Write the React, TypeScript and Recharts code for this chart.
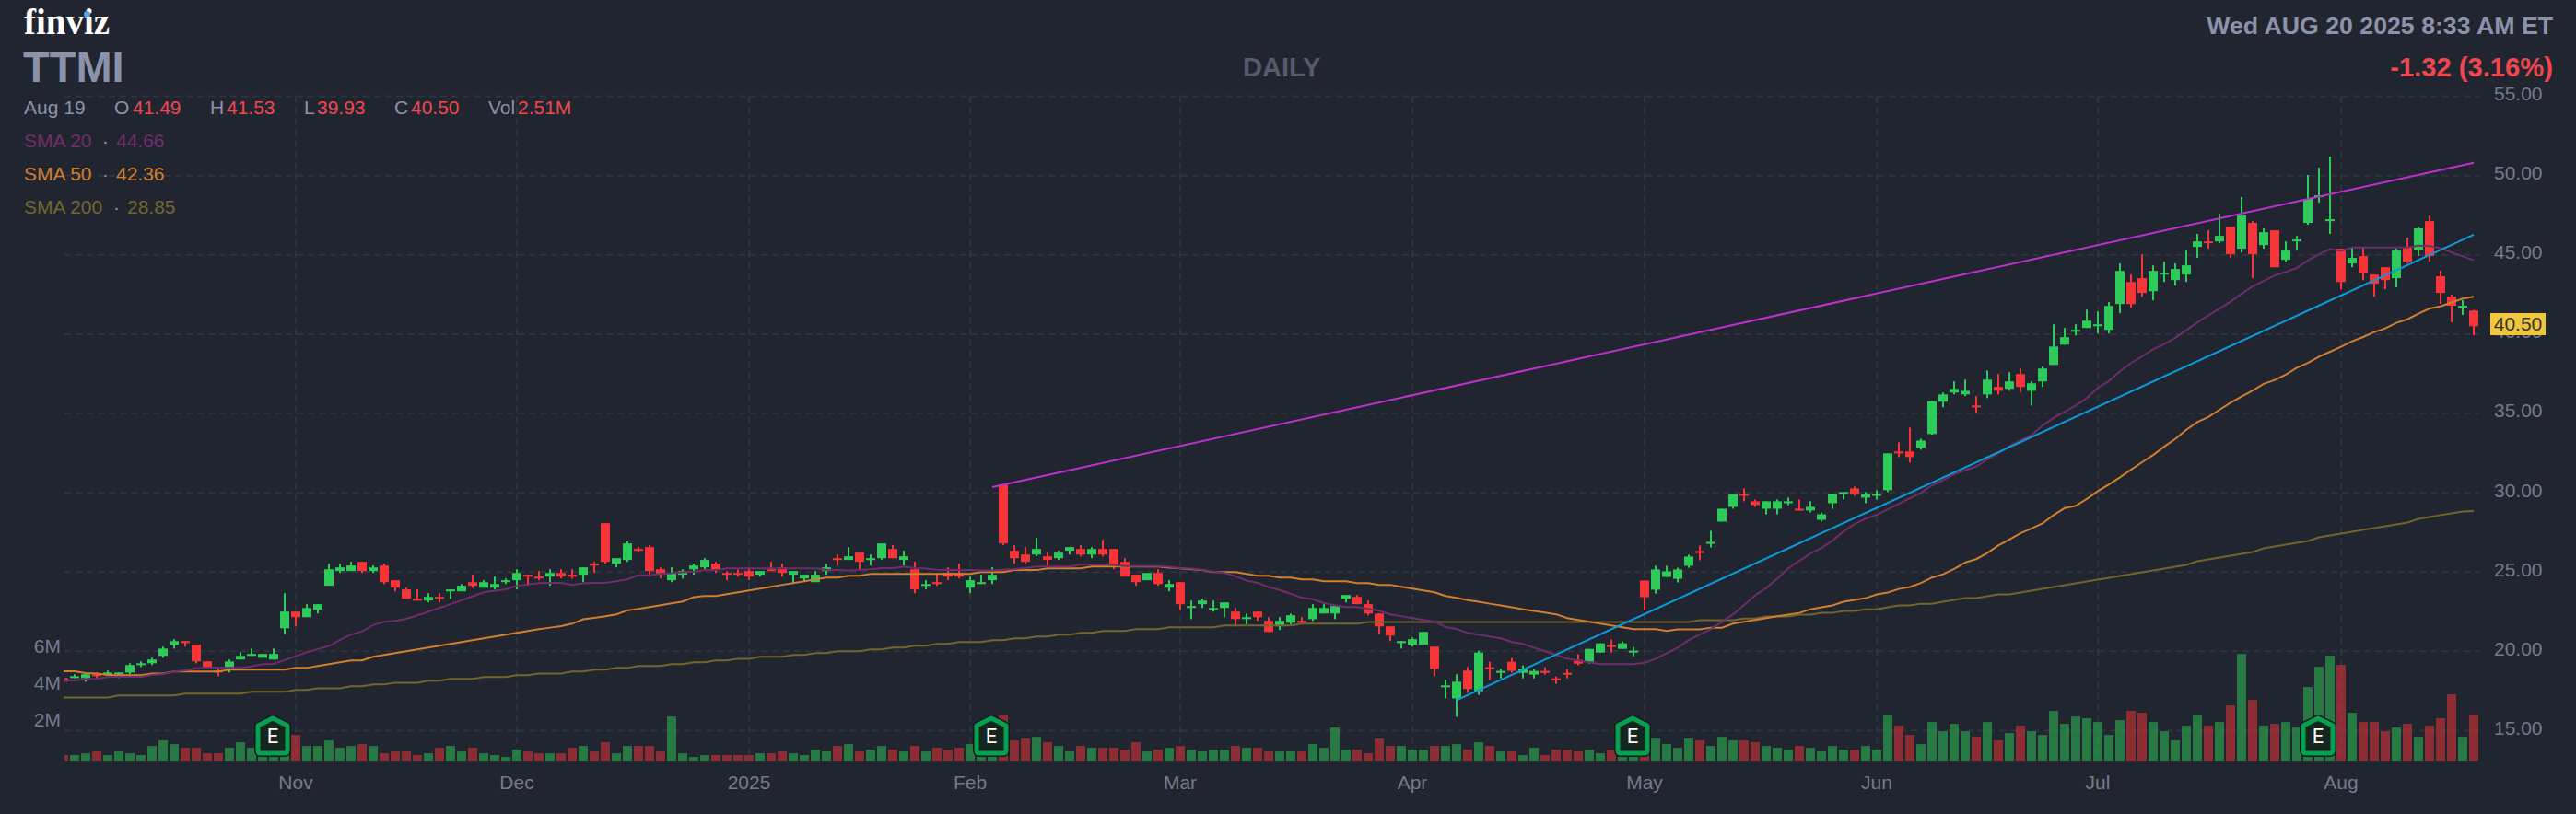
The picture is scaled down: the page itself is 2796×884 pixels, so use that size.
// App.tsx - TTMI daily candlesticks, finviz dark style
import { ComposedChart, Bar, Line, XAxis, YAxis, CartesianGrid, ReferenceDot } from "recharts";

const opens = [
  18.31,18.31,18.31,18.55,18.52,18.55,18.66,19.13,19.24,19.71,
  20.41,20.64,20.41,19.36,18.78,18.90,19.48,19.71,19.59,19.48,
  21.45,22.50,22.15,22.62,24.13,25.06,25.06,25.64,25.06,25.41,
  24.48,23.90,23.31,23.20,23.43,23.78,23.78,24.36,24.01,24.01,
  24.36,24.48,24.83,24.71,24.71,24.94,24.83,24.83,25.52,28.08,
  25.52,25.76,26.45,26.57,25.17,24.48,24.83,25.17,25.29,25.52,
  24.94,24.94,25.06,24.83,25.17,25.29,24.83,24.59,24.36,25.06,
  25.87,25.76,26.22,25.76,25.87,26.45,25.76,25.17,24.13,24.36,
  24.94,24.94,24.01,24.24,24.48,30.52,26.34,26.10,26.10,25.99,
  25.87,26.34,26.45,26.10,26.45,26.45,25.64,24.83,24.48,24.94,
  24.01,24.36,22.73,22.97,22.62,22.73,22.50,22.03,22.50,21.92,
  21.57,21.80,21.92,22.03,22.38,22.38,23.31,23.43,22.97,22.38,
  21.57,20.52,20.41,20.41,20.29,17.73,17.03,18.78,17.48,18.99,
  18.64,19.34,18.64,18.53,18.76,18.29,18.64,19.46,19.34,19.92,
  20.39,20.15,19.92,24.46,23.88,24.69,24.57,25.39,26.32,26.78,
  28.18,29.11,29.92,29.46,28.99,28.99,29.34,28.99,28.88,28.29,
  29.34,29.92,30.27,29.69,29.81,30.16,32.60,32.60,32.83,33.70,
  35.74,36.32,36.20,35.50,36.20,36.67,36.55,37.48,36.43,37.02,
  38.06,39.34,40.15,40.39,40.50,40.27,41.90,43.29,43.53,42.71,
  43.76,43.41,43.76,45.50,45.85,45.85,46.78,45.39,47.02,45.62,
  46.55,44.69,45.85,47.02,48.64,47.13,45.39,44.46,44.92,43.76,
  44.22,43.53,45.50,45.28,47.13,43.65,42.37,41.68,41.49,
];
const highs = [
  18.31,18.55,18.55,18.66,18.78,18.66,19.24,19.36,19.59,20.29,
  20.76,20.64,20.41,19.36,18.90,19.48,19.94,20.17,19.83,20.17,
  23.66,22.50,22.97,22.97,25.52,25.52,25.64,25.64,25.41,25.52,
  24.48,24.01,23.90,23.66,23.66,23.90,24.24,24.83,24.48,24.71,
  24.59,25.17,24.83,25.06,25.17,25.17,25.17,25.29,25.64,28.08,
  25.87,26.92,26.57,26.69,25.29,25.29,25.17,25.52,25.87,25.64,
  25.06,25.17,25.29,25.06,25.64,25.52,25.06,24.83,25.06,25.52,
  26.10,26.57,26.22,26.10,26.80,26.69,26.34,25.64,24.48,24.94,
  25.29,25.52,24.71,24.83,25.29,30.52,26.69,26.57,27.15,26.22,
  26.34,26.57,26.69,26.57,27.03,26.45,25.87,24.83,24.94,25.17,
  24.48,24.36,23.20,23.31,23.20,23.08,22.73,22.38,22.50,22.15,
  22.15,22.38,22.15,22.97,22.97,22.85,23.55,23.55,23.20,22.38,
  21.57,20.64,20.87,21.22,20.29,18.20,18.55,19.01,20.04,19.34,
  18.88,19.57,19.11,18.88,18.99,18.41,18.88,19.81,20.15,20.50,
  20.74,20.62,20.27,24.46,25.39,25.39,25.27,26.09,26.67,27.60,
  28.99,29.92,30.27,29.57,29.46,29.57,29.69,29.57,29.46,28.76,
  29.92,30.04,30.39,30.04,30.16,32.48,33.18,34.11,33.41,35.78,
  36.32,37.02,37.13,36.09,37.71,37.48,37.60,37.83,37.02,37.95,
  40.62,40.39,40.62,41.55,41.43,42.02,44.46,43.76,45.04,44.34,
  44.57,44.46,45.27,46.32,46.55,47.60,46.78,48.64,47.13,46.67,
  46.55,45.85,46.20,50.04,50.50,51.20,45.39,45.50,45.50,43.76,
  44.22,45.39,46.09,46.79,47.48,44.00,42.49,42.14,41.53,
];
const lows = [
  18.08,18.31,18.08,18.31,18.43,18.31,18.55,19.01,19.13,19.59,
  20.17,20.29,19.24,18.90,18.43,18.66,19.48,19.71,19.59,19.48,
  21.10,21.57,22.15,22.38,24.13,24.94,25.06,24.94,24.94,24.24,
  23.78,23.31,23.20,23.08,23.08,23.31,23.78,24.01,24.01,23.90,
  24.24,23.90,24.13,24.48,24.13,24.59,24.59,24.36,24.94,25.52,
  25.29,25.64,26.22,24.71,24.59,24.36,24.59,24.83,25.17,24.94,
  24.48,24.71,24.48,24.71,25.06,24.71,24.24,24.36,24.36,24.83,
  25.41,25.76,25.17,25.41,25.76,25.87,25.41,23.66,23.90,24.13,
  24.48,24.59,23.66,24.24,24.24,26.69,25.52,25.52,25.99,25.17,
  25.76,26.10,25.99,25.87,25.99,25.17,24.71,24.13,24.48,24.13,
  23.78,22.62,22.03,22.73,22.50,22.15,21.57,21.69,21.92,21.22,
  21.34,21.69,21.80,21.92,22.38,22.03,23.08,22.97,22.27,21.10,
  20.64,20.17,20.29,20.41,18.43,17.03,15.87,17.38,17.25,18.18,
  18.29,18.64,18.29,18.29,18.53,17.95,18.29,19.11,19.22,19.92,
  19.92,20.15,19.69,22.60,23.64,24.69,24.34,25.27,25.74,26.55,
  28.18,28.99,29.46,29.11,28.64,28.64,29.22,28.88,28.76,28.18,
  28.99,29.57,29.81,29.34,29.57,30.04,32.25,31.90,32.71,33.66,
  35.39,36.20,36.09,35.04,35.97,36.20,36.43,36.32,35.50,36.67,
  38.06,39.34,39.92,40.39,40.04,40.04,41.32,41.67,42.36,42.13,
  43.29,43.06,43.29,44.81,45.39,45.74,44.81,45.15,43.53,45.39,
  44.22,44.57,45.27,46.90,48.29,46.32,42.83,44.22,43.41,42.36,
  42.83,42.95,44.46,44.93,44.58,41.91,40.75,41.21,39.93,
];
const closes = [
  18.08,18.43,18.55,18.43,18.66,18.66,19.13,19.24,19.48,20.17,
  20.64,20.52,19.36,19.01,18.66,19.36,19.71,19.83,19.83,19.83,
  22.50,22.15,22.73,22.97,25.17,25.29,25.41,25.06,25.29,24.36,
  24.01,23.31,23.20,23.43,23.31,23.90,24.13,24.13,24.36,24.24,
  24.48,24.94,24.71,24.59,24.94,24.71,24.71,25.29,25.41,25.64,
  25.87,26.80,26.34,25.06,24.83,24.94,25.06,25.41,25.76,25.17,
  24.83,24.83,24.71,25.06,25.06,24.94,25.06,24.83,24.83,25.29,
  25.76,25.99,25.64,25.87,26.80,25.87,25.99,23.90,24.24,24.24,
  24.71,24.71,24.48,24.36,24.83,26.80,25.87,25.64,26.45,25.76,
  26.22,26.57,26.10,26.45,26.10,25.41,24.71,24.36,24.94,24.24,
  24.24,22.97,22.85,23.20,22.73,23.08,22.03,22.15,22.15,21.22,
  21.92,22.27,21.80,22.73,22.73,22.85,23.55,22.97,22.38,21.57,
  20.99,20.64,20.76,21.22,18.90,17.85,18.08,17.62,19.92,18.88,
  18.76,18.76,18.88,18.76,18.64,18.18,18.53,19.22,20.15,20.50,
  20.27,20.50,20.04,23.41,25.16,25.04,25.16,25.97,26.20,26.90,
  28.99,29.92,29.81,29.22,29.46,29.46,29.46,28.88,29.11,28.64,
  29.92,30.04,29.92,29.92,29.92,32.48,32.48,32.25,33.29,35.78,
  36.20,36.55,36.43,35.39,37.13,36.43,37.02,36.67,36.90,37.83,
  39.22,39.81,40.27,40.85,40.62,41.78,43.99,41.90,42.60,43.99,
  43.88,44.11,44.34,45.85,45.74,46.20,45.04,47.48,45.04,46.43,
  44.22,45.27,45.97,48.53,48.76,47.25,43.29,44.81,43.88,43.18,
  43.41,45.27,44.57,46.67,44.93,42.60,41.79,41.79,40.50,
];
// volume in millions
const volumes = [
  0.3,0.3,0.4,0.5,0.3,0.5,0.4,0.3,0.8,1.1,
  0.9,0.7,0.7,0.4,0.4,0.7,1.0,0.7,0.3,0.3,
  0.3,1.4,0.8,0.8,1.1,0.7,0.8,0.9,0.8,0.4,
  0.5,0.5,0.3,0.4,0.7,0.8,0.5,0.7,0.4,0.3,
  0.2,0.6,0.5,0.4,0.4,0.4,0.7,0.8,0.5,1.0,
  0.4,0.8,0.8,0.8,0.5,2.4,0.4,0.2,0.3,0.3,
  0.3,0.3,0.3,0.4,0.4,0.5,0.4,0.3,0.6,0.5,
  0.8,0.9,0.5,0.6,0.8,0.6,0.5,0.8,0.5,0.7,
  0.6,0.7,0.9,0.4,0.35,2.5,1.1,1.2,1.3,1.0,
  0.8,0.5,0.8,0.7,0.7,0.7,0.6,1.0,0.5,0.6,
  0.7,0.8,0.6,0.5,0.6,0.6,0.8,0.7,0.7,0.5,
  0.5,0.5,0.5,0.9,0.7,1.8,0.6,0.6,0.4,1.2,
  0.8,0.8,0.6,0.6,0.8,0.8,0.9,0.6,1.0,0.8,
  0.5,0.5,0.3,0.7,0.3,0.6,0.6,0.5,0.6,0.4,
  0.6,0.3,0.3,0.33,1.2,0.9,0.7,1.2,1.1,0.8,
  1.3,1.1,1.1,1.0,0.8,0.7,0.6,0.8,0.7,0.5,
  0.8,0.6,0.6,0.8,0.6,2.5,1.9,1.4,0.9,2.1,
  1.6,2.0,1.6,1.3,2.1,1.1,1.5,1.9,1.6,1.4,
  2.7,2.0,2.4,2.3,2.1,1.4,2.2,2.7,2.6,2.1,
  1.6,1.1,1.9,2.5,1.9,2.1,3.0,5.8,3.3,1.9,
  2.0,2.1,1.8,4.0,5.1,5.7,5.2,2.6,2.1,2.1,
  1.6,1.8,2.0,1.3,1.9,2.3,3.6,1.3,2.51,
];
const sma20 = [
  18.16,18.16,18.24,18.26,18.37,18.39,18.39,18.39,18.51,18.57,
  18.72,18.80,18.93,18.97,18.97,18.95,18.95,19.05,19.19,19.20,
  19.44,19.69,19.94,20.14,20.33,20.72,21.05,21.26,21.65,21.86,
  21.92,22.05,22.27,22.50,22.73,22.97,23.22,23.47,23.72,23.82,
  23.91,24.13,24.22,24.30,24.32,24.32,24.19,24.28,24.32,24.32,
  24.42,24.53,24.79,24.81,24.88,24.92,24.98,25.02,25.12,25.12,
  25.23,25.23,25.23,25.23,25.23,25.23,25.23,25.23,25.23,25.14,
  25.12,25.10,25.12,25.17,25.25,25.25,25.35,25.25,25.21,25.14,
  25.12,25.12,25.12,25.10,25.10,25.14,25.19,25.25,25.35,25.35,
  25.35,25.35,25.47,25.48,25.48,25.45,25.37,25.37,25.37,25.37,
  25.33,25.25,25.21,25.14,25.02,24.94,24.73,24.46,24.32,24.05,
  23.86,23.62,23.39,23.28,23.04,22.91,22.79,22.79,22.67,22.56,
  22.33,22.21,22.09,21.98,21.88,21.53,21.41,21.16,21.05,20.93,
  20.81,20.58,20.47,20.23,20.00,19.77,19.53,19.42,19.30,19.19,
  19.19,19.19,19.19,19.28,19.53,19.88,20.23,20.70,21.05,21.40,
  21.86,22.33,22.91,23.53,23.99,24.57,25.23,25.70,26.16,26.51,
  26.98,27.56,28.02,28.37,28.60,28.95,29.30,29.65,30.00,30.47,
  30.78,31.16,31.41,31.65,32.10,32.50,32.95,33.30,33.62,34.24,
  34.72,35.11,35.50,35.97,36.61,37.04,37.66,38.18,38.60,39.05,
  39.38,39.77,40.25,40.74,41.18,41.61,42.05,42.54,43.02,43.35,
  43.70,43.93,44.17,44.65,45.04,45.37,45.25,45.47,45.47,45.47,
  45.47,45.47,45.47,45.59,45.55,45.43,45.16,44.91,44.66,
];
const sma50 = [
  18.74,18.74,18.62,18.60,18.51,18.49,18.49,18.49,18.59,18.60,
  18.72,18.72,18.72,18.72,18.72,18.84,18.84,18.84,18.84,18.84,
  18.84,18.95,18.95,19.07,19.19,19.30,19.42,19.42,19.65,19.77,
  19.88,20.00,20.12,20.23,20.35,20.47,20.58,20.70,20.81,20.93,
  21.05,21.16,21.28,21.40,21.49,21.59,21.74,22.02,22.11,22.21,
  22.33,22.58,22.67,22.79,22.91,23.02,23.14,23.41,23.49,23.49,
  23.60,23.72,23.84,23.95,24.07,24.19,24.30,24.42,24.53,24.65,
  24.65,24.77,24.77,24.88,24.88,24.88,24.88,24.88,24.88,24.88,
  24.88,24.88,24.88,25.00,25.00,25.00,25.12,25.12,25.12,25.23,
  25.23,25.23,25.23,25.35,25.35,25.35,25.35,25.35,25.35,25.35,
  25.27,25.23,25.17,25.12,25.00,25.00,25.00,24.88,24.77,24.77,
  24.65,24.65,24.53,24.53,24.42,24.42,24.42,24.30,24.30,24.19,
  24.19,24.07,23.95,23.84,23.72,23.49,23.37,23.22,23.12,23.00,
  22.89,22.77,22.65,22.54,22.44,22.33,22.09,21.98,21.86,21.74,
  21.63,21.51,21.40,21.40,21.40,21.28,21.38,21.38,21.38,21.49,
  21.49,21.74,21.86,21.98,22.09,22.21,22.31,22.42,22.65,22.77,
  22.89,23.12,23.24,23.35,23.59,23.70,23.93,24.05,24.31,24.65,
  24.86,25.19,25.60,25.81,26.20,26.67,27.05,27.44,27.75,28.06,
  28.59,29.03,29.17,29.61,30.10,30.52,30.97,31.45,31.92,32.38,
  32.90,33.39,33.97,34.45,34.78,35.23,35.67,36.06,36.45,36.87,
  37.11,37.45,37.88,38.19,38.58,38.89,39.20,39.55,39.82,40.13,
  40.36,40.71,40.94,41.29,41.62,41.75,42.00,42.24,42.36,
];
const sma200 = [
  17.09,17.09,17.09,17.09,17.09,17.21,17.21,17.21,17.21,17.21,
  17.21,17.33,17.33,17.33,17.33,17.33,17.33,17.44,17.44,17.44,
  17.44,17.56,17.56,17.67,17.67,17.67,17.79,17.79,17.91,17.91,
  18.02,18.02,18.02,18.14,18.14,18.26,18.26,18.26,18.37,18.37,
  18.37,18.49,18.49,18.60,18.60,18.60,18.72,18.72,18.84,18.84,
  18.95,18.95,19.07,19.07,19.07,19.19,19.19,19.30,19.30,19.42,
  19.42,19.53,19.53,19.65,19.65,19.65,19.77,19.77,19.88,19.88,
  20.00,20.00,20.00,20.12,20.12,20.23,20.23,20.35,20.35,20.47,
  20.47,20.58,20.58,20.58,20.70,20.70,20.81,20.81,20.93,20.93,
  21.05,21.05,21.16,21.16,21.28,21.28,21.28,21.40,21.40,21.40,
  21.51,21.51,21.51,21.51,21.51,21.63,21.63,21.63,21.63,21.63,
  21.63,21.63,21.74,21.74,21.74,21.74,21.74,21.74,21.85,21.85,
  21.85,21.85,21.85,21.85,21.85,21.85,21.85,21.85,21.85,21.85,
  21.85,21.85,21.85,21.85,21.85,21.85,21.85,21.85,21.85,21.85,
  21.85,21.85,21.85,21.85,21.85,21.85,21.85,21.85,21.96,21.96,
  21.96,21.96,22.07,22.07,22.19,22.19,22.19,22.31,22.31,22.42,
  22.42,22.54,22.54,22.65,22.65,22.77,22.89,22.89,23.00,23.00,
  23.12,23.24,23.35,23.35,23.47,23.59,23.59,23.70,23.82,23.93,
  24.05,24.17,24.28,24.40,24.52,24.63,24.75,24.86,24.98,25.10,
  25.21,25.33,25.45,25.68,25.79,25.91,26.03,26.14,26.26,26.49,
  26.61,26.72,26.84,26.96,27.19,27.31,27.42,27.54,27.66,27.77,
  27.89,28.00,28.12,28.35,28.47,28.59,28.70,28.82,28.85,
];

const monthTicks = [21, 41, 62, 82, 101, 122, 143, 164, 184, 206];
const monthLabels = ["Nov", "Dec", "2025", "Feb", "Mar", "Apr", "May", "Jun", "Jul", "Aug"];
const priceTicks = [15, 20, 25, 30, 35, 40, 45, 50, 55];
const volumeTicks = [2, 4, 6];
const earningsDays = [19, 84, 142, 204];
const upperTrend = [[84, 30.35], [218, 50.81]];
const lowerTrend = [[126, 16.92], [218, 46.27]];

const rows = closes.map((c, i) => ({
  i, o: opens[i], h: highs[i], l: lows[i], c, v: volumes[i],
  sma20: sma20[i], sma50: sma50[i], sma200: sma200[i],
  upper: upperTrend.find((p) => p[0] === i)?.[1] ?? null,
  lower: lowerTrend.find((p) => p[0] === i)?.[1] ?? null,
}));

const BG = "#21252f";
const GREEN = "#2fcb5a";
const RED = "#f63538";
const TEXT = "#8b93ab";
const TICK = "#747b8c";
const QUOTE = "#f0474f";
const SANS = "'Liberation Sans', Arial, sans-serif";
const PLOT_LEFT = 70;

const Candle = (props: any) => {
  const { x, y, width, height, payload } = props;
  const { o, h, l, c } = payload;
  const ppu = height / (h - l);
  const color = c >= o ? GREEN : RED;
  const top = y + (h - Math.max(o, c)) * ppu;
  const bodyH = Math.max(Math.abs(o - c) * ppu, 2);
  const cx = x + width / 2;
  const left = Math.max(x, PLOT_LEFT);
  return (
    <g>
      {cx > PLOT_LEFT && <rect x={cx - 1} y={y} width={2} height={height} fill={color} />}
      <rect x={left} y={top} width={x + width - left} height={bodyH} fill={color} />
    </g>
  );
};

const VolumeBar = (props: any) => {
  const { x, y, width, height, payload } = props;
  const left = Math.max(x, PLOT_LEFT);
  return (
    <rect x={left} y={y} width={x + width - left} height={height}
      fill={payload.c >= payload.o ? GREEN : RED} fillOpacity={0.5} />
  );
};

const EarningsBadge = (props: any) => {
  const { cx, cy } = props;
  const path = `M${cx - 17},${cy - 5} L${cx - 17},${cy - 32} L${cx - 1},${cy - 40} L${cx + 15},${cy - 32} L${cx + 15},${cy - 5} Q${cx + 15},${cy - 2} ${cx + 12},${cy - 2} L${cx - 14},${cy - 2} Q${cx - 17},${cy - 2} ${cx - 17},${cy - 5} Z`;
  return (
    <g>
      <path d={path} fill="none" stroke="#14181f" strokeWidth={8} strokeLinejoin="round" />
      <path d={path} fill="#15261f" stroke="#06a04e" strokeWidth={5} strokeLinejoin="round" />
      <text x={cx - 1} y={cy - 13} textAnchor="middle" fill="#ffffff" fontSize={22} fontFamily="Roboto, sans-serif">E</text>
    </g>
  );
};

const label = (left: number, top: number, text: string, color: string, extra: any = {}) => (
  <div style={{ position: "absolute", left, top, color, fontFamily: SANS, fontSize: 21, lineHeight: "24px", whiteSpace: "nowrap", ...extra }}>
    {text}
  </div>
);

export default function App() {
  return (
    <div style={{ position: "fixed", left: 0, top: 0, width: 2796, height: 884, background: BG, overflow: "hidden" }}>
      <ComposedChart width={2796} height={884} data={rows} barGap={0}
        margin={{ top: 104.6, right: 0, bottom: 0, left: 0 }}>
        <CartesianGrid x={PLOT_LEFT} width={2621} stroke="#2f333e" strokeWidth={2} strokeDasharray="7 5"
          syncWithTicks yAxisId="price" xAxisId="price" />
        <XAxis xAxisId="price" dataKey="i" ticks={monthTicks} interval={0} height={57.9} axisLine={false} tickLine={false}
          tick={(p: any) => (
            <text x={p.x} y={856.5} textAnchor="middle" fill={TICK} fontSize={21} fontFamily={SANS}>
              {monthLabels[monthTicks.indexOf(p.payload.value)]}
            </text>
          )} />
        <XAxis xAxisId="vol" dataKey="i" hide />
        <YAxis yAxisId="price" orientation="right" width={105} domain={[13.1, 55]} ticks={priceTicks} interval={0}
          axisLine={false} tickLine={false}
          tick={(p: any) => (
            <text x={2707} y={p.y + 4.5} fill={TICK} fontSize={21} fontFamily={SANS}>
              {p.payload.value.toFixed(2)}
            </text>
          )} />
        <YAxis yAxisId="vol" orientation="left" width={63} domain={[0, 36.08]} ticks={volumeTicks} interval={0}
          axisLine={false} tickLine={false}
          tick={(p: any) => (
            <text x={66} y={p.y + 2.5} textAnchor="end" fill={TICK} fontSize={21} fontFamily={SANS}>
              {`${p.payload.value}M`}
            </text>
          )} />
        <Bar xAxisId="vol" yAxisId="vol" dataKey="v" barSize={10} shape={VolumeBar} isAnimationActive={false} />
        <Bar xAxisId="price" yAxisId="price" dataKey={(d: any) => [d.l, d.h]} barSize={10} shape={Candle} isAnimationActive={false} />
        <Line xAxisId="price" yAxisId="price" dataKey="sma200" stroke="#72652f" strokeWidth={2} dot={false} isAnimationActive={false} />
        <Line xAxisId="price" yAxisId="price" dataKey="sma50" stroke="#d07f30" strokeWidth={2} dot={false} isAnimationActive={false} />
        <Line xAxisId="price" yAxisId="price" dataKey="sma20" stroke="#6f2d6c" strokeWidth={2} dot={false} isAnimationActive={false} />
        <Line xAxisId="price" yAxisId="price" dataKey="upper" stroke="#c030d0" strokeWidth={2} dot={false} connectNulls isAnimationActive={false} />
        <Line xAxisId="price" yAxisId="price" dataKey="lower" stroke="#0a9bdc" strokeWidth={2} dot={false} connectNulls isAnimationActive={false} />
        {earningsDays.map((d) => (
          <ReferenceDot key={d} xAxisId="price" yAxisId="price" x={d} y={13.45} shape={EarningsBadge} />
        ))}
      </ComposedChart>

      {/* logo */}
      <div style={{ position: "absolute", left: 26, top: 1, color: "#fff", fontFamily: "'Liberation Serif', serif", fontWeight: 700, fontSize: 39, lineHeight: "46px" }}>finviz</div>
      <div style={{ position: "absolute", left: 91, top: 12, width: 7, height: 7, borderRadius: 4, background: "#4aa3f5" }} />
      {label(25, 46, "TTMI", TEXT, { fontSize: 47, fontWeight: 700, lineHeight: "54px" })}
      {label(1349, 57, "DAILY", "#555b6b", { fontSize: 29, fontWeight: 700, lineHeight: "32px" })}

      <div style={{ position: "absolute", right: 25, top: 12, color: TEXT, fontFamily: SANS, fontWeight: 700, fontSize: 26.7, lineHeight: "32px" }}>Wed AUG 20 2025 8:33 AM ET</div>
      <div style={{ position: "absolute", right: 25, top: 56, color: QUOTE, fontFamily: SANS, fontWeight: 700, fontSize: 29.2, lineHeight: "34px" }}>-1.32 (3.16%)</div>

      {/* quote line */}
      {label(26, 105, "Aug 19", TEXT)}
      {label(124, 105, "O", TEXT)}{label(144, 105, "41.49", QUOTE)}
      {label(228, 105, "H", TEXT)}{label(246, 105, "41.53", QUOTE)}
      {label(330, 105, "L", TEXT)}{label(344, 105, "39.93", QUOTE)}
      {label(428, 105, "C", TEXT)}{label(446, 105, "40.50", QUOTE)}
      {label(530, 105, "Vol", TEXT)}{label(562, 105, "2.51M", QUOTE)}

      {label(26, 141, "SMA 20", "#6f2d6c")}{label(111, 141, "·", TEXT)}{label(126, 141, "44.66", "#6f2d6c")}
      {label(26, 177, "SMA 50", "#d07f30")}{label(111, 177, "·", TEXT)}{label(126, 177, "42.36", "#d07f30")}
      {label(26, 213, "SMA 200", "#72652f")}{label(123, 213, "·", TEXT)}{label(138, 213, "28.85", "#72652f")}

      {/* last price tag */}
      <div style={{ position: "absolute", left: 2703, top: 340, width: 60, height: 24, background: "#f0c63c", color: "#333", fontFamily: SANS, fontSize: 21, lineHeight: "24px", textAlign: "center" }}>40.50</div>
    </div>
  );
}
